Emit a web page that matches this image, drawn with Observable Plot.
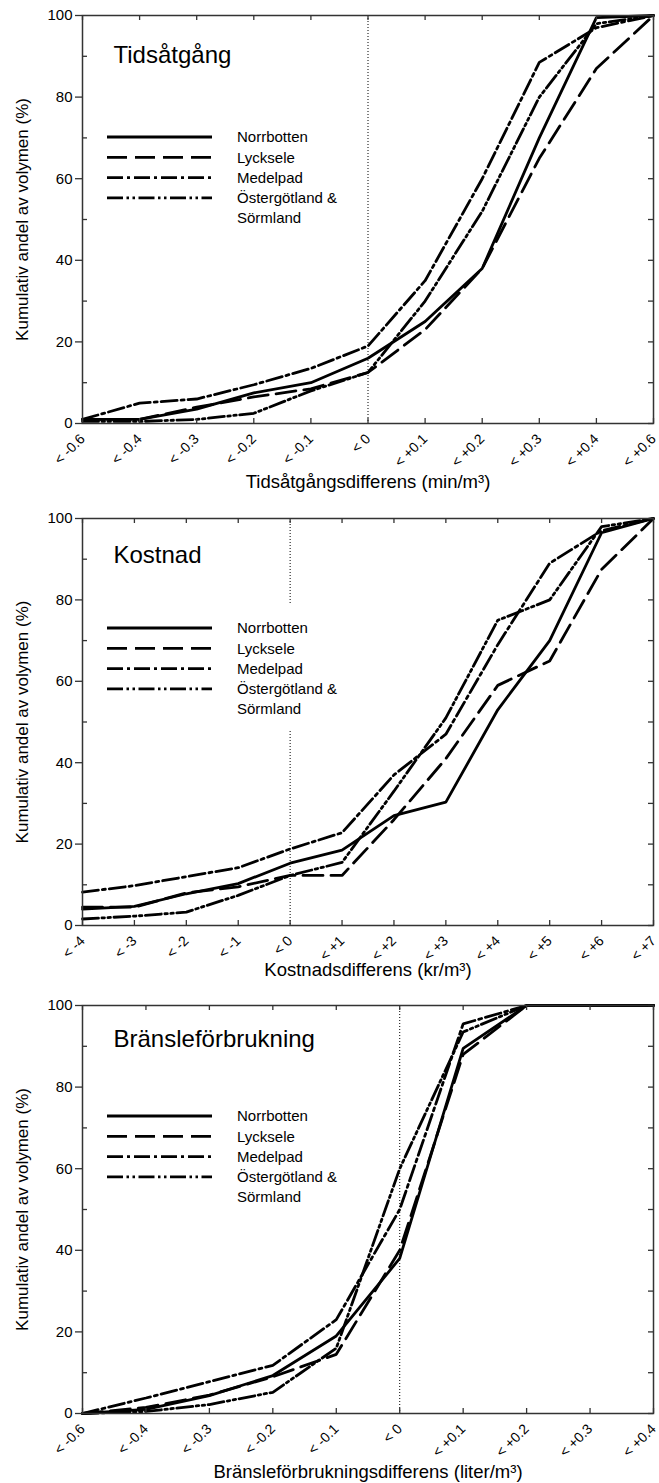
<!DOCTYPE html>
<html><head><meta charset="utf-8">
<script src="https://cdn.jsdelivr.net/npm/d3@7"></script>
<script src="https://cdn.jsdelivr.net/npm/@observablehq/plot@0.6"></script>
<style>
body{margin:0;background:#fff;font-family:"Liberation Sans",Arial,sans-serif;}
.panel{position:relative;width:659px;}
.panel svg{display:block;}
.legend{position:absolute;}
</style></head><body><div id="root"></div>
<script>
// ---------- data ----------
const seriesNames = ["Norrbotten", "Lycksele", "Medelpad", "Östergötland &\nSörmland"];
const yTitle = "Kumulativ andel av volymen (%)";

// Panel 1: Tidsåtgång
const tidTitle = "Tidsåtgång";
const tidXTitle = "Tidsåtgångsdifferens (min/m³)";
const tidLabels = ["< -0.6", "< -0.4", "< -0.3", "< -0.2", "< -0.1", "< 0", "< +0.1", "< +0.2", "< +0.3", "< +0.4", "< +0.6"];
const tidNorrbotten = [1, 1, 3.5, 7.5, 10, 16, 25, 38, 70, 99.5, 100];
const tidLycksele = [1, 1, 4, 6.5, 8.5, 12.5, 23, 38, 65, 87, 100];
const tidMedelpad = [1, 5, 6, 9.5, 13.5, 19, 35, 60, 88.5, 97, 100];
const tidOstergotland = [0.5, 0.5, 1, 2.5, 8, 12.5, 30, 52, 80, 98, 100];

// Panel 2: Kostnad
const kostTitle = "Kostnad";
const kostXTitle = "Kostnadsdifferens (kr/m³)";
const kostLabels = ["< -4", "< -3", "< -2", "< -1", "< 0", "< +1", "< +2", "< +3", "< +4", "< +5", "< +6", "< +7"];
const kostNorrbotten = [4, 4.7, 7.8, 10.3, 15.3, 18.5, 27, 30.3, 53, 70, 96.5, 100];
const kostLycksele = [4.5, 4.5, 8, 9.5, 12.3, 12.3, 26, 41, 59, 65, 87.5, 100];
const kostMedelpad = [8.2, 9.8, 12, 14.2, 18.8, 22.8, 37, 47, 69, 89, 97, 100];
const kostOstergotland = [1.6, 2.3, 3.3, 7.4, 12.3, 15.5, 33, 51, 75, 80, 98, 100];

// Panel 3: Bränsleförbrukning
const branTitle = "Bränsleförbrukning";
const branXTitle = "Bränsleförbrukningsdifferens (liter/m³)";
const branLabels = ["< -0.6", "< -0.4", "< -0.3", "< -0.2", "< -0.1", "< 0", "< +0.1", "< +0.2", "< +0.3", "< +0.4"];
const branNorrbotten = [0, 1, 4.4, 9.3, 19, 38, 89.5, 100, 100, 100];
const branLycksele = [0, 1.5, 4.5, 9, 14.5, 40, 88, 100, 100, 100];
const branMedelpad = [0, 3.8, 7.8, 11.8, 23, 50, 95.5, 100, 100, 100];
const branOstergotland = [0, 0.5, 2.2, 5.2, 16, 60, 93.5, 100, 100, 100];

const yMajor = [0, 20, 40, 60, 80, 100];
const yMinor = [10, 30, 50, 70, 90];
const yAll = [0, 10, 20, 30, 40, 50, 60, 70, 80, 90, 100];

// ---------- styles ----------
const lineDashes = [null, "20,8", "16,4,3,4", "16,3.5,2.5,3.5,2.5,3.5"];
const FONT = "Liberation Sans, Arial, sans-serif";
const W = 659, ML = 82, MR = 6;

function panel(cfg) {
  const {title, xTitle, labels, series, height, marginTop, marginBottom, titleDy, xTitleDy, legendTop} = cfg;
  const n = labels.length;
  const idx = d3.range(n);
  const zero = labels.indexOf("< 0");
  const plotH = height - marginTop - marginBottom;
  const plotW = W - ML - MR;
  const chart = Plot.plot({
    width: W, height, marginLeft: ML, marginRight: MR, marginTop, marginBottom,
    style: {fontFamily: FONT, fontSize: "15px", color: "#000", background: "#fff", overflow: "visible"},
    x: {type: "linear", domain: [0, n - 1]},
    y: {domain: [0, 100]},
    marks: [
      Plot.ruleX([zero], {x: d => d, stroke: "#000", strokeWidth: 1, strokeDasharray: "1,2"}),
      ...series.map((s, k) => Plot.line(s, {x: (d, i) => i, y: d => d, stroke: "#000", strokeWidth: 2.8, strokeDasharray: lineDashes[k], strokeLinejoin: "miter"})),
      Plot.frame({stroke: "#333", strokeWidth: 1.5}),
      Plot.ruleX(idx, {x: d => d, insetTop: plotH - 5, stroke: "#333", strokeWidth: 1.3}),
      Plot.ruleX(idx, {x: d => d, insetBottom: plotH - 5, stroke: "#333", strokeWidth: 1.3}),
      Plot.ruleY(yMinor, {y: d => d, insetRight: plotW - 5, stroke: "#333", strokeWidth: 1.3}),
      Plot.ruleY(yAll, {y: d => d, insetLeft: plotW - 5, stroke: "#333", strokeWidth: 1.3}),
      Plot.axisY({ticks: yMajor, tickSize: 7, tickPadding: 3, fontSize: 15, stroke: "#333", strokeWidth: 1.3, label: null}),
      Plot.axisX({ticks: idx, tickFormat: i => labels[i], tickRotate: -45, tickSize: 0, tickPadding: 13, fontSize: 14, label: null}),
      Plot.text([yTitle], {text: d => d, frameAnchor: "left", textAnchor: "middle", lineAnchor: "middle", rotate: -90, dx: -60, fontSize: 17}),
      Plot.text([xTitle], {text: d => d, frameAnchor: "bottom", textAnchor: "middle", lineAnchor: "middle", dy: xTitleDy, fontSize: 18.5}),
      Plot.text([title], {text: d => d, frameAnchor: "top-left", lineAnchor: "middle", dx: 31, dy: titleDy, textAnchor: "start", fontSize: 24})
    ]
  });
  const wrap = document.createElement("div");
  wrap.className = "panel";
  wrap.appendChild(chart);

  // legend overlay
  const rowH = 20.3;
  const boxTop = marginTop + legendTop - 23;
  const lg = d3.create("svg").attr("class", "legend").attr("width", 250).attr("height", 125)
    .style("left", "95px").style("top", boxTop + "px");
  lg.append("rect").attr("width", 250).attr("height", 125).attr("fill", "#fff");
  seriesNames.forEach((name, k) => {
    const y = 23 + k * rowH;
    lg.append("line").attr("x1", 107 - 95).attr("x2", 212 - 95).attr("y1", y).attr("y2", y)
      .attr("stroke", "#000").attr("stroke-width", 2.8).attr("stroke-dasharray", lineDashes[k]);
    name.split("\n").forEach((t, j) => {
      lg.append("text").attr("x", 237 - 95).attr("y", y + j * rowH).attr("dy", "0.35em")
        .attr("font-family", FONT).attr("font-size", 15).attr("fill", "#000").text(t);
    });
  });
  wrap.appendChild(lg.node());
  return wrap;
}

const root = document.getElementById("root");
root.appendChild(panel({
  title: tidTitle, xTitle: tidXTitle, labels: tidLabels,
  series: [tidNorrbotten, tidLycksele, tidMedelpad, tidOstergotland],
  height: 500, marginTop: 15, marginBottom: 77, titleDy: 40, xTitleDy: 59, legendTop: 122
}));
root.appendChild(panel({
  title: kostTitle, xTitle: kostXTitle, labels: kostLabels,
  series: [kostNorrbotten, kostLycksele, kostMedelpad, kostOstergotland],
  height: 490, marginTop: 18, marginBottom: 65, titleDy: 37, xTitleDy: 45, legendTop: 110
}));
root.appendChild(panel({
  title: branTitle, xTitle: branXTitle, labels: branLabels,
  series: [branNorrbotten, branLycksele, branMedelpad, branOstergotland],
  height: 493, marginTop: 15, marginBottom: 70, titleDy: 34, xTitleDy: 59, legendTop: 111
}));
</script>
</body></html>
